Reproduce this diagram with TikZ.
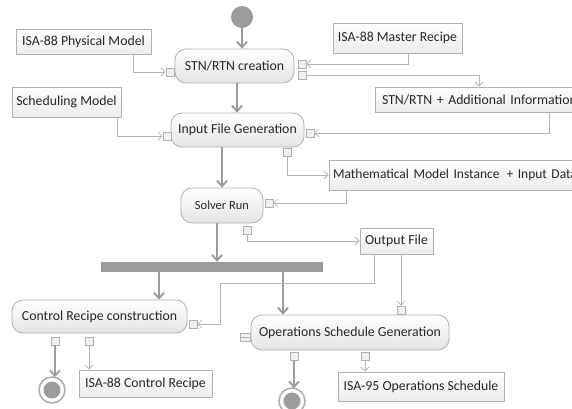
\documentclass[tikz,border=0pt]{standalone}
\usepackage{fontspec}
\setmainfont{Carlito}
\usetikzlibrary{arrows.meta,calc}
\definecolor{flow}{HTML}{9C9C9C}
\definecolor{objline}{HTML}{B4B4B4}
\definecolor{edgec}{HTML}{B0B0B0}
\definecolor{txt}{HTML}{262626}
\definecolor{fillbot}{HTML}{E4E4E4}
\begin{document}
\begin{tikzpicture}[x=1pt,y=-1pt,
 action/.style={draw=edgec,rounded corners=11pt,top color=white,bottom color=fillbot,text=txt,inner sep=0pt,font=\fontsize{13.8}{15}\selectfont,line width=0.8pt},
 objbox/.style={draw=edgec,top color=white,bottom color=fillbot!70,text=txt,inner sep=0pt,font=\fontsize{13.8}{15}\selectfont,line width=0.8pt},
 pinbox/.style={draw=edgec,fill=white!94!black,minimum size=8pt,inner sep=0pt,line width=0.7pt},
 ctrl/.style={draw=flow,line width=2.3pt,-{Straight Barb[length=5.5pt,width=10pt,line width=1.9pt]}},
 objflow/.style={draw=objline,line width=0.8pt,-{Straight Barb[length=4pt,width=8pt]}},
]
\fill[white] (0,0) rectangle (572,408);
\clip (0,0) rectangle (572,408);
% action nodes
\node[action,minimum width=119pt,minimum height=34pt] (a1) at (234.5,66) {STN/RTN creation};
\node[action,minimum width=133pt,minimum height=34pt] (a2) at (237.5,130) {Input File Generation};
\node[action,minimum width=82pt,minimum height=35pt,font=\fontsize{12.5}{14}\selectfont] (a3) at (222,205.5) {Solver Run};
\node[action,minimum width=175pt,minimum height=33pt] (a4) at (99.5,316.5) {Control Recipe construction};
\node[action,minimum width=198pt,minimum height=35pt] (a5) at (350,332.5) {Operations Schedule Generation};
% object nodes
\node[objbox,minimum width=135pt,minimum height=25pt] (pm) at (83.5,41.5) {ISA-88 Physical Model};
\node[objbox,minimum width=129pt,minimum height=30pt] (mr) at (397.5,38) {ISA-88 Master Recipe};
\node[objbox,minimum height=25pt,text width=221pt,inner xsep=7pt,align=left] (sa) at (492.5,99.5) {STN/RTN + Additional Information};
\node[objbox,minimum height=30pt] (sm) at (66.5,102) [minimum width=109pt] {Scheduling Model};
\node[objbox,minimum height=30pt,text width=283pt,inner xsep=4pt,align=left,font=\fontsize{13.5}{15}\selectfont] (mm) at (474.5,175) {Mathematical Model Instance\hspace{7pt}+ Input Data};
\node[objbox,minimum width=73pt,minimum height=26pt] (of) at (396.5,241) {Output File};
\node[objbox,minimum width=133pt,minimum height=27pt] (cr) at (145.5,383.5) {ISA-88 Control Recipe};
\node[objbox,minimum width=166pt,minimum height=29pt] (os) at (421,386.5) {ISA-95 Operations Schedule};
% fork bar
\node[fill=flow,minimum width=222pt,minimum height=10pt,inner sep=0pt] (bar) at (212,267) {};
% initial / final
\node[circle,fill=flow,minimum size=22pt,inner sep=0pt] (init) at (242,17) {};
\node[circle,draw=edgec,line width=1.6pt,minimum size=26pt,inner sep=0pt] (f1) at (52,390) {};
\node[circle,fill=flow,minimum size=17pt,inner sep=0pt] at (f1) {};
\node[circle,draw=edgec,line width=1.6pt,minimum size=26pt,inner sep=0pt] (f2) at (292,401) {};
\node[circle,fill=flow,minimum size=17pt,inner sep=0pt] at (f2) {};
% pins
\node[pinbox] (p1l) at (170,72) {};
\node[pinbox] (p1r1) at (302,64) {};
\node[pinbox] (p1r2) at (302,75) {};
\node[pinbox] (p2l) at (167,136) {};
\node[pinbox] (p2r) at (310,133) {};
\node[pinbox] (p2b) at (287,152) {};
\node[pinbox] (p3r) at (269,203) {};
\node[pinbox] (p3b) at (247,230) {};
\node[pinbox] (p4r) at (193,324) {};
\node[pinbox] (p4b1) at (55,341) {};
\node[pinbox] (p4b2) at (89,341) {};
\node[pinbox] (p5t) at (401,310) {};
\node[pinbox,minimum width=10pt,path picture={\draw[edgec,line width=0.6pt] (path picture bounding box.west) -- (path picture bounding box.east);}] (p5l) at (245,337) {};
\node[pinbox] (p5b1) at (294,356) {};
\node[pinbox] (p5b2) at (365,356) {};
% helper coordinates
\coordinate (a3out) at ([xshift=-5pt]a3.south);
\coordinate (a4top) at ([xshift=59.5pt]a4.north);
\coordinate (a5top) at ([xshift=-67pt]a5.north);
% control flow
\draw[ctrl] (init.south) -- (init.south |- a1.north);
\draw[ctrl] ([xshift=2.5pt]a1.south) -- ([xshift=2.5pt]a1.south |- a2.north);
\draw[ctrl] (a3.north |- a2.south) -- (a3.north);
\draw[ctrl] (a3out) -- (a3out |- bar.north);
\draw[ctrl] (a4top |- bar.south) -- (a4top);
\draw[ctrl] (a5top |- bar.south) -- (a5top);
\draw[ctrl] (p4b1.south) -- ([yshift=-1pt]p4b1.south |- f1.north);
\draw[ctrl] (p5b1.south) -- ([yshift=-1pt]p5b1.south |- f2.north);
% object flow
\draw[objflow] ([xshift=49.5pt]pm.south) |- (p1l.west);
\draw[objflow] ([xshift=10.5pt]mr.south) |- (p1r1.east);
\draw[objflow] (p1r2.east) -| ([xshift=-13.5pt]sa.north);
\draw[objflow] ([xshift=56.5pt]sa.south) |- (p2r.east);
\draw[objflow] ([xshift=50.5pt]sm.south) |- (p2l.west);
\draw[objflow] (p2b.south) |- (mm.west);
\draw[objflow] ([xshift=-128.5pt]mm.south) |- (p3r.east);
\draw[objflow] (p3b.south) |- (of.west);
\draw[objflow] ([xshift=-22.5pt]of.south) |- ++(-154,29) |- (p4r.east);
\draw[objflow] (p5t.north |- of.south) -- (p5t.north);
\draw[objflow] (p4b2.south) -- (p4b2.south |- cr.north);
\draw[objflow] (p5b2.south) -- (p5b2.south |- os.north);
\end{tikzpicture}
\end{document}
